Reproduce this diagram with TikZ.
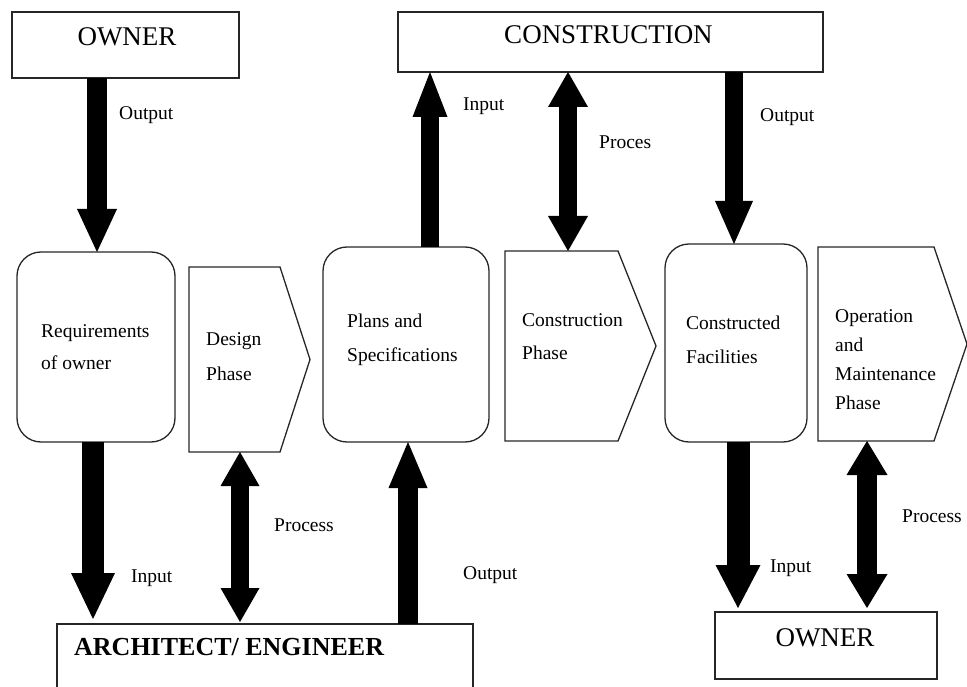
\documentclass[tikz,border=0pt]{standalone}
\usepackage{fontspec}
\setmainfont{Liberation Serif}
\usetikzlibrary{arrows.meta,calc}

\begin{document}
\begin{tikzpicture}[x=1pt,y=-1pt,
  frame/.style={draw=black!85, line width=1.3pt, inner sep=0pt, outer sep=0pt},
  party/.style={frame, rectangle},
  stage/.style={frame, rounded corners=24pt},
  phasebox/.style={inner sep=0pt, outer sep=0pt},
  phaseline/.style={draw=black!85, line width=1.3pt, line join=miter},
  headtext/.style={font=\fontsize{27}{30}\selectfont, inner sep=0pt},
  bodytext/.style={font=\fontsize{19.5}{#1}\selectfont, align=left, inner sep=0pt, anchor=west},
  bodytext/.default=33,
  tag/.style={font=\fontsize{19.5}{22}\selectfont, inner sep=0pt, anchor=west},
  oneway/.style n args={3}{draw=black, line width=#1,
    -{Triangle[width=#2, length=#3, line width=0pt]}},
  twoway/.style n args={3}{draw=black, line width=#1,
    {Triangle[width=#2, length=#3, line width=0pt]}-{Triangle[width=#2, length=#3, line width=0pt]}},
]
\useasboundingbox (0,0) rectangle (967,687);
\clip (0,0) rectangle (967,687);

% parties
\node[party, minimum width=227pt, minimum height=66pt] (own1) at (125.5,45) {};
\node[headtext] (own1-t) at (127,37) {OWNER};
\node[party, minimum width=425pt, minimum height=60pt] (cons) at (610.5,42) {};
\node[headtext] (cons-t) at (608.5,35) {CONSTRUCTION};
\node[party, minimum width=416pt, minimum height=76pt] (arch) at (265,662) {};
\node[headtext, font=\fontsize{26}{30}\selectfont\bfseries, anchor=west] (arch-t) at (74,647) {ARCHITECT/ ENGINEER};
\node[party, minimum width=222pt, minimum height=67pt] (own2) at (826,645.5) {};
\node[headtext] (own2-t) at (825,638) {OWNER};

% deliverables
\node[stage, minimum width=158pt, minimum height=190pt] (req) at (96,347) {};
\node[bodytext=32] (req-t) at (41,347) {Requirements\\of owner};
\node[stage, minimum width=166pt, minimum height=195pt] (plans) at (406,344.5) {};
\node[bodytext=34] (plans-t) at (347,340) {Plans and\\Specifications};
\node[stage, minimum width=142pt, minimum height=198pt] (cf) at (736,343) {};
\node[bodytext=34] (cf-t) at (686,340) {Constructed\\Facilities};

% phases
\node[phasebox, minimum width=91pt, minimum height=185pt] (dp) at (234.5,359.5) {};
\draw[phaseline] (dp.north west) -- (dp.north east) -- ([xshift=30pt]dp.east)
  -- (dp.south east) -- (dp.south west) -- cycle;
\node[bodytext=35] (dp-t) at (206,356.5) {Design\\Phase};

\node[phasebox, minimum width=113pt, minimum height=190pt] (cp) at (561.5,346) {};
\draw[phaseline] (cp.north west) -- (cp.north east) -- ([xshift=38pt]cp.east)
  -- (cp.south east) -- (cp.south west) -- cycle;
\node[bodytext=33] (cp-t) at (522,336.5) {Construction\\Phase};

\node[phasebox, minimum width=116pt, minimum height=194pt] (op) at (876,344) {};
\draw[phaseline] (op.north west) -- (op.north east) -- ([xshift=33pt]op.east)
  -- (op.south east) -- (op.south west) -- cycle;
\node[bodytext=29] (op-t) at (835,360) {Operation\\and\\Maintenance\\Phase};

% flows
\draw[oneway={20pt}{40pt}{43pt}] ([xshift=1pt]own1.south -| req.north) -- ([xshift=1pt]req.north);
\draw[oneway={22pt}{44pt}{46pt}, shorten >=5pt] ([xshift=-3pt]req.south) -- ([xshift=-3pt]req.south |- arch.north);
\draw[twoway={18pt}{39pt}{34pt}, shorten >=2pt] ([xshift=5.5pt]dp.south) -- ([xshift=5.5pt]dp.south |- arch.north);
\draw[oneway={20pt}{39pt}{46pt}] ([xshift=2pt]plans.south |- arch.north) -- ([xshift=2pt]plans.south);
\draw[oneway={18pt}{35pt}{45pt}] ([xshift=24pt]plans.north) -- ([xshift=24pt]plans.north |- cons.south);
\draw[twoway={18pt}{40pt}{35pt}] ([xshift=6.5pt]cp.north |- cons.south) -- ([xshift=6.5pt]cp.north);
\draw[oneway={18pt}{38pt}{43pt}] ([xshift=-2pt]cf.north |- cons.south) -- ([xshift=-2pt]cf.north);
\draw[oneway={23pt}{45pt}{43pt}, shorten >=4pt] ([xshift=2pt]cf.south) -- ([xshift=2pt]cf.south |- own2.north);
\draw[twoway={20pt}{41pt}{34pt}, shorten >=4pt] ([xshift=-9pt]op.south) -- ([xshift=-9pt]op.south |- own2.north);

% flow labels
\node[tag] (l1) at (119,115) {Output};
\node[tag] (l2) at (463,106) {Input};
\node[tag] (l3) at (599,142) {Proces};
\node[tag] (l4) at (760,117) {Output};
\node[tag] (l5) at (131,578) {Input};
\node[tag] (l6) at (274,525) {Process};
\node[tag] (l7) at (463,575) {Output};
\node[tag] (l8) at (770,568) {Input};
\node[tag] (l9) at (902,516) {Process};
\end{tikzpicture}
\end{document}
